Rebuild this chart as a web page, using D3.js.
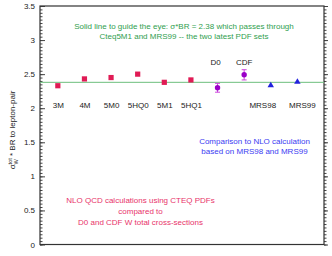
<!DOCTYPE html>
<html>
<head>
<meta charset="utf-8">
<script src="https://cdn.jsdelivr.net/npm/d3@7"></script>
<style>
  body { margin: 0; background: #fff; }
  text { font-family: "Liberation Sans", Arial, sans-serif; }
</style>
</head>
<body>
<script>
// CTEQ NLO calculations
var cteqNames  = ["3M", "4M", "5M0", "5HQ0", "5M1", "5HQ1"];
var cteqValues = [2.33, 2.43, 2.45, 2.50, 2.38, 2.415];
// measurements
var expNames  = ["D0", "CDF"];
var expValues = [2.30, 2.49];
var expErrors = [0.065, 0.075];
// MRS NLO calculations
var mrsNames  = ["MRS98", "MRS99"];
var mrsValues = [2.335, 2.385];
var guideValue = 2.38;
var yTicks = [0, 0.5, 1, 1.5, 2, 2.5, 3, 3.5];

var W = 332, H = 256;
var margin = {top: 6, right: 8, bottom: 11.5, left: 40},
    width = W - margin.left - margin.right,
    height = H - margin.top - margin.bottom;

var svg = d3.select("body").append("svg")
    .attr("width", W)
    .attr("height", H);

var g = svg.append("g")
    .attr("transform", "translate(" + margin.left + "," + margin.top + ")");

var x = d3.scaleLinear().domain([0.33, 11]).range([0, width]);
var y = d3.scaleLinear().domain([0, 3.5]).range([height, 0]);

var points = [];
cteqNames.forEach(function(n, i) { points.push({name: n, v: cteqValues[i], kind: "cteq"}); });
expNames.forEach(function(n, i) { points.push({name: n, v: expValues[i], err: expErrors[i], kind: "exp"}); });
mrsNames.forEach(function(n, i) { points.push({name: n, v: mrsValues[i], kind: "mrs", idx: i}); });
points.forEach(function(d, i) { d.pos = i + 1; });

var minorTicks = d3.range(0, 3.5001, 0.05);

// left axis: minor + major ticks inward
g.append("g")
  .call(d3.axisLeft(y).tickValues(minorTicks).tickSize(-2.5).tickFormat(""))
  .call(function(s) { s.select(".domain").remove(); s.selectAll("line").attr("stroke", "#444"); });
g.append("g")
  .call(d3.axisLeft(y).tickValues(yTicks).tickSize(-5).tickPadding(5).tickFormat(d3.format("")))
  .call(function(s) {
    s.select(".domain").remove();
    s.selectAll("line").attr("stroke", "#444");
    s.selectAll("text").attr("font-size", 8).attr("fill", "#222")
      .attr("font-family", "Liberation Sans, Arial, sans-serif");
  });

// right axis ticks
g.append("g")
  .attr("transform", "translate(" + width + ",0)")
  .call(d3.axisRight(y).tickValues(minorTicks).tickSize(2.5).tickFormat(""))
  .call(function(s) { s.select(".domain").remove(); s.selectAll("line").attr("stroke", "#444"); });
g.append("g")
  .attr("transform", "translate(" + width + ",0)")
  .call(d3.axisRight(y).tickValues(yTicks).tickSize(4).tickFormat(""))
  .call(function(s) { s.select(".domain").remove(); s.selectAll("line").attr("stroke", "#444"); });

// frame
g.append("rect")
  .attr("width", width).attr("height", height)
  .attr("fill", "none").attr("stroke", "#333").attr("stroke-width", 1.2);

// guide line
g.append("line")
  .attr("x1", 0).attr("x2", width)
  .attr("y1", y(guideValue)).attr("y2", y(guideValue))
  .attr("stroke", "#6cbf7c").attr("stroke-width", 1);

// CTEQ squares
g.selectAll(".sq")
  .data(points.filter(function(d) { return d.kind == "cteq"; }))
  .enter().append("rect")
    .attr("x", function(d) { return x(d.pos) - 2.6; })
    .attr("y", function(d) { return y(d.v) - 2.6; })
    .attr("width", 5.2).attr("height", 5.2)
    .attr("fill", "#e01b55");

// measurements with error bars
var exp = g.selectAll(".exp")
  .data(points.filter(function(d) { return d.kind == "exp"; }))
  .enter().append("g");
exp.append("line")
  .attr("x1", function(d) { return x(d.pos); })
  .attr("x2", function(d) { return x(d.pos); })
  .attr("y1", function(d) { return y(d.v + d.err); })
  .attr("y2", function(d) { return y(d.v - d.err); })
  .attr("stroke", "#cc44dd").attr("stroke-width", 1);
[1, -1].forEach(function(sgn) {
  exp.append("line")
    .attr("x1", function(d) { return x(d.pos) - 2.5; })
    .attr("x2", function(d) { return x(d.pos) + 2.5; })
    .attr("y1", function(d) { return y(d.v + sgn * d.err); })
    .attr("y2", function(d) { return y(d.v + sgn * d.err); })
    .attr("stroke", "#cc44dd").attr("stroke-width", 1);
});
exp.append("circle")
  .attr("cx", function(d) { return x(d.pos); })
  .attr("cy", function(d) { return y(d.v); })
  .attr("r", 2.7)
  .attr("fill", "#9a00c8");

// MRS triangles
g.selectAll(".tri")
  .data(points.filter(function(d) { return d.kind == "mrs"; }))
  .enter().append("path")
    .attr("d", d3.symbol().type(d3.symbolTriangle).size(18))
    .attr("transform", function(d) { return "translate(" + x(d.pos) + "," + y(d.v) + ")"; })
    .attr("fill", "#2222dd");

// point labels (MRS labels sit a bit off their markers)
g.selectAll(".lbl")
  .data(points)
  .enter().append("text")
    .attr("x", function(d) {
      if (d.kind == "mrs") return x(d.pos) + (d.idx == 0 ? -8 : 5);
      if (d.kind == "exp") return x(d.pos) - (d.name == "D0" ? 2 : 0);
      return x(d.pos) + 0.5;
    })
    .attr("y", function(d) { return d.kind == "exp" ? 59 : 102; })
    .attr("text-anchor", "middle")
    .attr("font-size", 8)
    .attr("fill", "#222")
    .text(function(d) { return d.name; });

// annotations
function note(lines, cx, y0, dy, color) {
  lines.forEach(function(t, i) {
    svg.append("text")
      .attr("x", cx).attr("y", y0 + i * dy)
      .attr("text-anchor", "middle")
      .attr("font-size", 8)
      .attr("fill", color)
      .text(t);
  });
}
note(["Solid line to guide the eye: \u03c3*BR = 2.38 which passes through",
      "Cteq5M1 and MRS99 -- the two latest PDF sets"], 184, 28.5, 10, "#2f9e4e");
note(["Comparison to NLO calculation", "based on MRS98 and MRS99"], 254.5, 143.5, 10.7, "#3b3bf2");
note(["NLO QCD calculations using CTEQ PDFs", "compared to",
      "D0 and CDF W total cross-sections"], 140.5, 202.5, 11.3, "#e8336a");

// y axis title
var yl = svg.append("text")
  .attr("transform", "translate(15,130) rotate(-90)")
  .attr("text-anchor", "middle")
  .attr("font-size", 8)
  .attr("fill", "#222");
yl.append("tspan").text("\u03c3");
yl.append("tspan").attr("font-size", 5.5).attr("dy", -3.5).text("tot");
yl.append("tspan").attr("font-size", 5.5).attr("dx", -6.2).attr("dy", 6).text("W");
yl.append("tspan").attr("dx", 1).attr("dy", -2.5).text(" * BR to lepton-pair");
</script>
</body>
</html>
